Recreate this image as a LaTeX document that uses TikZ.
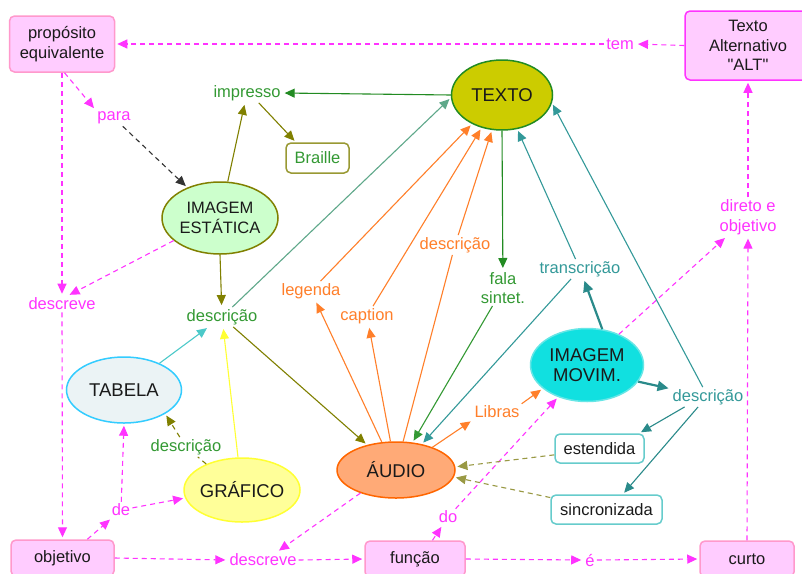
\documentclass[tikz,border=0pt]{standalone}
\usepackage{fontspec}
\setmainfont{Liberation Sans}[Ligatures=TeXOff]
\usetikzlibrary{arrows.meta,shapes.geometric}
\newcommand\lblfont{\fontsize{16.5pt}{19.5pt}\selectfont}
\newcommand\ellfont{\fontsize{18.5pt}{20.5pt}\selectfont}
\definecolor{mag}{HTML}{FF33FF}
\definecolor{pinkfill}{HTML}{FFCCFF}
\definecolor{pinkdraw}{HTML}{FF99CC}
\definecolor{olv}{HTML}{808000}
\definecolor{olvdash}{HTML}{999944}
\definecolor{olvbox}{HTML}{999933}
\definecolor{lblgreen}{HTML}{339933}
\definecolor{dkgreen}{HTML}{228B22}
\definecolor{sea}{HTML}{5FA88A}
\definecolor{org}{HTML}{FF7F2A}
\definecolor{orgdark}{HTML}{FF6600}
\definecolor{tealc}{HTML}{339999}
\definecolor{tealdk}{HTML}{2A8A8A}
\definecolor{cyanl}{HTML}{4CC9C9}
\definecolor{yel}{HTML}{FFFF33}
\definecolor{texfill}{HTML}{CCCC00}
\definecolor{iefill}{HTML}{CCFFCC}
\definecolor{tabfill}{HTML}{EBF3F5}
\definecolor{tabdraw}{HTML}{33CCFF}
\definecolor{graffill}{HTML}{FFFF99}
\definecolor{audfill}{HTML}{FFAA77}
\definecolor{imfill}{HTML}{11E0E0}
\definecolor{imdraw}{HTML}{66E6E6}
\definecolor{estdraw}{HTML}{66CCCC}
\definecolor{ink}{HTML}{1A1A1A}
\tikzset{
  conn/.style={line width=1.1pt,-{Triangle[length=10pt,width=9pt]},shorten >=2pt},
  plainline/.style={line width=1.1pt},
  thickarrow/.style={line width=2.2pt,-{Triangle[length=11pt,width=10pt]},shorten >=2pt},
  dsh/.style={dash pattern=on 5pt off 4pt},
  lbl/.style={inner sep=2pt,font=\lblfont,align=center},
  ell/.style={ellipse,inner xsep=-4pt,inner ysep=0pt,line width=1.5pt,font=\ellfont,align=center,text=ink},
  rbox/.style={rectangle,rounded corners=5pt,line width=1.5pt,align=center,inner sep=0pt,font=\lblfont,text=ink},
  pinkbox/.style={rbox,fill=pinkfill,draw=pinkdraw}
}
\begin{document}
\begin{tikzpicture}[x=1pt,y=-1pt]
\useasboundingbox (0,0) rectangle (802,573);
\clip (0,0) rectangle (802,573);
\fill[white] (0,0) rectangle (802,573);
% nodes
\node[pinkbox,minimum width=105pt,minimum height=56pt] (prop) at (62,44) {propósito\\equivalente};
\node[rbox,fill=pinkfill,draw=mag,minimum width=126pt,minimum height=69pt] (alt) at (748,45.5) {Texto\\Alternativo\\"ALT"};
\node[lbl,text=mag] (tem) at (620,44) {tem};
\node[lbl,text=mag] (para) at (114,118) {para};
\node[ell,font=\lblfont,fill=iefill,draw=olv,minimum width=116pt,minimum height=72pt] (ie) at (220,218) {IMAGEM\\ESTÁTICA};
\node[lbl,text=lblgreen] (impresso) at (247,93) {impresso};
\node[rbox,draw=olvbox,fill=white,text=lblgreen,minimum width=63pt,minimum height=30pt] (braille) at (317.5,158) {Braille};
\node[ell,fill=texfill,draw=dkgreen,minimum width=101pt,minimum height=70pt] (texto) at (502,95) {TEXTO};
\node[lbl,text=mag] (desc1m) at (62,304) {descreve};
\node[lbl,text=lblgreen] (desc1) at (222,317) {descrição};
\node[ell,fill=tabfill,draw=tabdraw,minimum width=115pt,minimum height=66pt] (tabela) at (124,390) {TABELA};
\node[lbl,text=lblgreen] (desc2) at (186,447) {descrição};
\node[ell,fill=graffill,draw=yel,minimum width=116pt,minimum height=64pt] (graf) at (242,490) {GRÁFICO};
\node[pinkbox,minimum width=103pt,minimum height=36pt] (obj) at (62.5,558) {objetivo};
\node[lbl,text=mag] (de) at (121,510) {de};
\node[lbl,text=mag] (descreve2) at (263,560) {descreve};
\node[pinkbox,minimum width=100pt,minimum height=36pt] (funcao) at (415,559) {função};
\node[ell,fill=audfill,draw=orgdark,minimum width=118pt,minimum height=56pt] (audio) at (396,470) {ÁUDIO};
\node[lbl,text=mag] (do) at (448,517) {do};
\node[lbl,text=mag] (e) at (590,560) {é};
\node[pinkbox,minimum width=94pt,minimum height=36pt] (curto) at (747,559) {curto};
\node[lbl,text=mag] (direto) at (748,217) {direto e\\objetivo};
\node[ell,fill=imfill,draw=imdraw,minimum width=113pt,minimum height=73pt] (im) at (587,365) {IMAGEM\\MOVIM.};
\node[lbl,text=tealc] (transc) at (580,269) {transcrição};
\node[lbl,text=tealc] (desc3) at (708,397) {descrição};
\node[rbox,draw=estdraw,fill=white,minimum width=89pt,minimum height=29pt] (est) at (599.5,448.5) {estendida};
\node[rbox,draw=estdraw,fill=white,minimum width=111pt,minimum height=29pt] (sinc) at (606.5,509.5) {sincronizada};
\node[lbl,text=lblgreen] (fala) at (503,288) {fala\\sintet.};
\node[lbl,text=org] (legenda) at (311,291) {legenda};
\node[lbl,text=org] (caption) at (367,316) {caption};
\node[lbl,text=org] (desco) at (455,245) {descrição};
\node[lbl,text=org] (libras) at (497,412) {Libras};
% magenta dashed connectors
\draw[conn,mag,dsh] (alt.west) -- (tem.east);
\draw[conn,mag,dsh] (tem.west) -- (prop.east);
\draw[conn,mag,dsh] (prop.275) -- (para.north west);
\draw[conn,black!80,dsh] (para) -- (ie.137);
\draw[conn,mag,dsh] (prop.south) -- (desc1m.north);
\draw[conn,mag,dsh] (ie.206) -- (desc1m.55);
\draw[conn,mag,dsh] (desc1m.south) -- (obj.north);
\draw[conn,mag,dsh] (obj.37) -- (de);
\draw[conn,mag,dsh] (de) -- (tabela.south);
\draw[conn,mag,dsh] (de) -- (graf.188);
\draw[conn,mag,dsh] (obj.east) -- (descreve2.west);
\draw[conn,mag,dsh] (descreve2.east) -- (funcao.west);
\draw[conn,mag,dsh] (audio.213) -- (descreve2.30);
\draw[conn,mag,dsh] (funcao.47) -- (do);
\draw[conn,mag,dsh] (do) -- (im.228);
\draw[conn,mag,dsh] (funcao.east) -- (e.west);
\draw[conn,mag,dsh] (e.east) -- (curto.west);
\draw[conn,mag,dsh] (curto.north) -- (direto.south);
\draw[conn,mag,dsh] (direto.north) -- (alt.south);
\draw[conn,mag,dsh] (im.44) -- (direto);
% olive
\draw[conn,olv] (ie.78) -- (impresso);
\draw[conn,olv] (impresso.-40) -- (braille.144);
\draw[conn,olv] (ie.south) -- (desc1);
\draw[conn,olv] (desc1) -- (audio.139);
\draw[plainline,olv,dsh] (graf.144) -- (desc2);
\draw[conn,olv,dsh] (desc2) -- (tabela.330);
\draw[conn,olvdash,dsh] (est.188) -- (audio.3);
\draw[conn,olvdash,dsh] (sinc.168) -- (audio.353);
% greens
\draw[conn,dkgreen] (texto.west) -- (impresso.east);
\draw[conn,dkgreen] (texto.south) -- (fala);
\draw[conn,lblgreen] (fala) -- (audio.59);
\draw[conn,sea] (desc1) -- (texto.183);
% cyan, yellow
\draw[conn,cyanl] (tabela.37) -- (desc1);
\draw[conn,yel] (graf.97) -- (desc1);
% orange
\draw[conn,org] (audio.117) -- (legenda);
\draw[conn,org] (legenda) -- (texto.224);
\draw[conn,org] (audio.101) -- (caption);
\draw[conn,org] (caption) -- (texto.238);
\draw[plainline,org] (audio.76) -- (desco);
\draw[conn,org] (desco) -- (texto.254);
\draw[conn,org] (audio.32) -- (libras.south west);
\draw[conn,org] (libras.north east) -- (im.208);
% teal
\draw[thickarrow,tealdk] (im.67) -- (transc);
\draw[thickarrow,tealdk] (im.342) -- (desc3);
\draw[conn,tealc] (transc) -- (texto.294);
\draw[conn,tealc] (transc) -- (audio.45);
\draw[conn,tealc] (desc3) -- (texto.351);
\draw[conn,tealdk] (desc3.203) -- (est.21);
\draw[conn,tealdk] (desc3.225) -- (sinc.43);
\end{tikzpicture}
\end{document}
